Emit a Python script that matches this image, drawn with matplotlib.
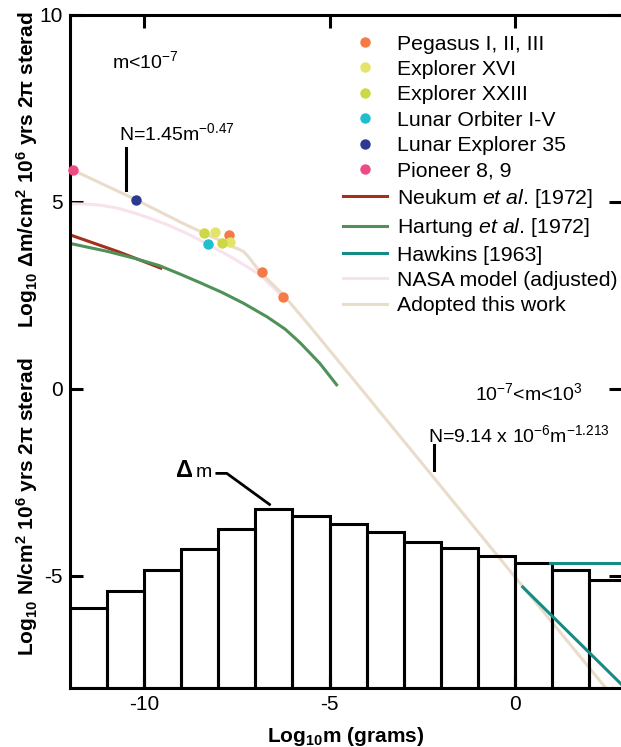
import numpy as np
import matplotlib
matplotlib.use("Agg")
import matplotlib.pyplot as plt
from matplotlib.legend_handler import HandlerLine2D

plt.rcParams['font.family'] = ['Liberation Sans', 'DejaVu Sans']
plt.rcParams['mathtext.fontset'] = 'custom'
plt.rcParams['mathtext.rm'] = 'Liberation Sans'
plt.rcParams['mathtext.it'] = 'Liberation Sans:italic'
plt.rcParams['mathtext.bf'] = 'Liberation Sans:bold'
plt.rcParams['axes.unicode_minus'] = False

# histogram (log10 N per bin), bins one decade wide
bin_left = [-12, -11, -10, -9, -8, -7, -6, -5, -4, -3, -2, -1, 0, 1, 2]
bin_top = [-5.87, -5.40, -4.84, -4.29, -3.75, -3.22, -3.40, -3.61, -3.84,
           -4.10, -4.26, -4.48, -4.65, -4.84, -5.11]

# spacecraft measurements
pegasus_x = [-7.71, -6.83, -6.25]
pegasus_y = [4.12, 3.12, 2.47]
explorer16_x = [-8.10, -7.68]
explorer16_y = [4.20, 3.92]
explorer23_x = [-8.38, -7.90]
explorer23_y = [4.18, 3.90]
orbiter_x = [-8.29]
orbiter_y = [3.88]
lunar35_x = [-10.21]
lunar35_y = [5.05]
pioneer_x = [-11.92]
pioneer_y = [5.85]

# flux curves
neukum_x = [-12.0, -10.70, -9.55]
neukum_y = [4.12, 3.67, 3.23]
hartung_x = [-12.0, -11.0, -10.25, -9.6, -9.03, -8.49, -7.9, -7.32, -6.69, -6.2, -5.80, -5.26, -4.81]
hartung_y = [3.89, 3.68, 3.49, 3.30, 3.07, 2.84, 2.58, 2.29, 1.93, 1.60, 1.24, 0.68, 0.11]
hawkins_flat_x = [0.94, 2.9]
hawkins_flat_y = [-4.65, -4.65]
hawkins_x = [0.21, 2.9]
hawkins_y = [-5.30, -7.93]
nasa_x = [-12.0, -11.5, -11.15, -10.7, -10.25, -9.8, -9.35, -8.81, -8.30, -7.59, -6.87, -6.30]
nasa_y = [4.95, 4.94, 4.91, 4.83, 4.70, 4.55, 4.38, 4.14, 3.88, 3.49, 3.05, 2.50]
adopted_x = [-11.92, -10.2, -9.0, -8.4, -7.95, -7.59, -7.45, -7.32, -7.20, -7.10, -6.87,
             -6.25, -5.5, 0.0, 2.45]
adopted_y = [5.85, 5.05, 4.45, 4.17, 3.97, 3.79, 3.74, 3.67, 3.55, 3.42, 3.12,
             2.52, 1.64, -5.03, -8.0]


class RightMarker(HandlerLine2D):
    # legend dots sit at the right end of the handle
    def get_xdata(self, legend, xdescent, ydescent, width, height, fontsize):
        xdata, _ = super().get_xdata(legend, xdescent, ydescent, width, height, fontsize)
        return xdata, np.array([-xdescent + 0.88 * width])


fig = plt.figure(figsize=(6.21, 7.47), dpi=100)
ax = fig.add_axes([70 / 621, 1 - 688 / 747, 551 / 621, 673 / 747])

# histogram: white fill below the curves, outlines above
heights = [t + 8 for t in bin_top]
ax.bar(bin_left, heights, width=1, bottom=-8, align='edge',
       facecolor='white', edgecolor='none', zorder=1)
ax.bar(bin_left, heights, width=1, bottom=-8, align='edge',
       facecolor='none', edgecolor='black', linewidth=2.2, zorder=2.5)

lw = 2.2
h_neu, = ax.plot(neukum_x, neukum_y, color='#a3301f', lw=lw, zorder=2, label='Neukum $\\mathit{et\\ al}$. [1972]')
h_har, = ax.plot(hartung_x, hartung_y, color='#4f9158', lw=lw, zorder=2.1, label='Hartung $\\mathit{et\\ al}$. [1972]')
h_haw, = ax.plot(hawkins_x, hawkins_y, color='#168a84', lw=lw, zorder=3, label='Hawkins [1963]')
ax.plot(hawkins_flat_x, hawkins_flat_y, color='#168a84', lw=lw, zorder=3)
h_nasa, = ax.plot(nasa_x, nasa_y, color='#f8e2ee', lw=lw, zorder=2, label='NASA model (adjusted)')
h_ado, = ax.plot(adopted_x, adopted_y, color='#eadccb', lw=lw, zorder=2.2, label='Adopted this work')

ms = 7.5
pts = []
for xs, ys, c, lab in [
        (pegasus_x, pegasus_y, '#f47b45', 'Pegasus I, II, III'),
        (explorer16_x, explorer16_y, '#e4e46a', 'Explorer XVI'),
        (explorer23_x, explorer23_y, '#cdd944', 'Explorer XXIII'),
        (orbiter_x, orbiter_y, '#1fbfd0', 'Lunar Orbiter I-V'),
        (lunar35_x, lunar35_y, '#2b3990', 'Lunar Explorer 35'),
        (pioneer_x, pioneer_y, '#ee4a86', 'Pioneer 8, 9')]:
    h, = ax.plot(xs, ys, 'o', color=c, ms=ms, mec='none', zorder=4,
                 clip_on=False, label=lab)
    pts.append(h)

handles = pts + [h_neu, h_har, h_haw, h_nasa, h_ado]
ax.legend(handles=handles, loc='upper left', bbox_to_anchor=(0.495, 0.971),
          frameon=False, fontsize=15.3, handlelength=2.1, handletextpad=0.45,
          labelspacing=0.30, borderpad=0, borderaxespad=0,
          handler_map={h: RightMarker(numpoints=1) for h in pts})

# annotations
fs = 14
ax.text(-10.86, 8.59, 'm<10$^{-7}$', fontsize=fs, va='baseline')
ax.text(-10.67, 6.66, 'N=1.45m$^{-0.47}$', fontsize=fs, va='baseline')
ax.plot([-10.49, -10.49], [6.44, 5.32], color='black', lw=2.2)
ax.text(-1.08, -0.30, '10$^{-7}$<m<10$^{3}$', fontsize=fs, va='baseline')
ax.text(-2.34, -1.41, 'N=9.14 x 10$^{-6}$m$^{-1.213}$', fontsize=fs, va='baseline')
ax.plot([-2.17, -2.17], [-1.50, -2.17], color='black', lw=2.2)
ax.text(-9.15, -2.35, 'Δ', fontsize=17, fontweight='bold', va='baseline')
ax.text(-8.60, -2.35, 'm', fontsize=fs, va='baseline')
ax.plot([-8.04, -7.77, -6.62], [-2.26, -2.26, -3.09], color='black', lw=2)

ax.set_xlim(-12, 2.86)
ax.set_ylim(-8, 10)
ax.set_xticks([-10, -5, 0])
ax.set_yticks([-5, 0, 5, 10])
ax.tick_params(direction='in', length=9, width=2.2, labelsize=15,
               top=True, right=True, pad=5)
for side in ['left', 'top', 'bottom']:
    ax.spines[side].set_linewidth(2.2)
ax.spines['right'].set_visible(False)

ax.set_xlabel('Log$_{\\mathbf{10}}$m (grams)', fontsize=15, fontweight='bold', labelpad=8)
fig.text(27 / 621, 1 - 170 / 747,
         'Log$_{\\mathbf{10}}$ Δm/cm$^{\\mathbf{2}}$ 10$^{\\mathbf{6}}$ yrs 2π sterad',
         rotation=90, ha='center', va='center', fontsize=15, fontweight='bold')
fig.text(27 / 621, 1 - 507 / 747,
         'Log$_{\\mathbf{10}}$ N/cm$^{\\mathbf{2}}$ 10$^{\\mathbf{6}}$ yrs 2π sterad',
         rotation=90, ha='center', va='center', fontsize=15, fontweight='bold')

fig.savefig('out.png', dpi=100)
